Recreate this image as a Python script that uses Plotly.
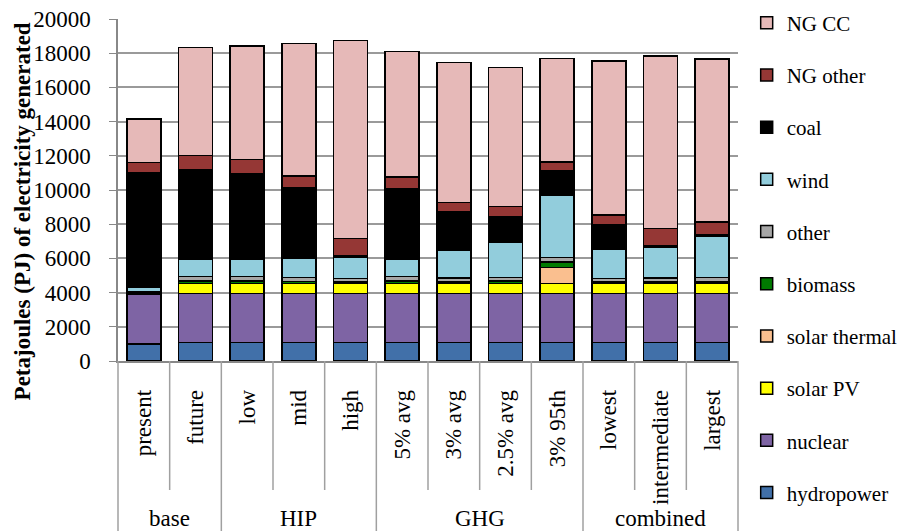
import plotly.graph_objects as go

groups = ["base", "base", "HIP", "HIP", "HIP", "GHG", "GHG", "GHG", "GHG",
          "combined", "combined", "combined"]
scenarios = ["present", "future", "low", "mid", "high", "5% avg", "3% avg",
             "2.5% avg", "3% 95th", "lowest", "intermediate", "largest"]

hydropower    = [1000, 1070, 1070, 1070, 1070, 1070, 1070, 1070, 1070, 1070, 1070, 1070]
nuclear       = [2930, 2890, 2890, 2890, 2890, 2890, 2890, 2890, 2890, 2890, 2890, 2890]
solar_pv      = [0, 560, 560, 560, 560, 560, 560, 560, 560, 560, 560, 560]
solar_thermal = [0, 0, 0, 0, 0, 0, 0, 0, 960, 0, 0, 0]
biomass       = [60, 150, 150, 130, 100, 150, 100, 150, 310, 100, 100, 100]
other         = [60, 270, 270, 230, 200, 270, 230, 210, 250, 200, 230, 250]
wind          = [270, 1015, 1015, 1150, 1230, 1015, 1620, 2090, 3670, 1740, 1820, 2440]
coal          = [6700, 5250, 5000, 4080, 80, 4120, 2250, 1460, 1390, 1390, 60, 60]
ng_other      = [580, 820, 840, 700, 1035, 700, 550, 600, 530, 590, 1020, 760]
ng_cc         = [2540, 6310, 6640, 7770, 11580, 7320, 8200, 8140, 6070, 9000, 10100, 9530]

y_ticks = [0, 2000, 4000, 6000, 8000, 10000, 12000, 14000, 16000, 18000, 20000]

series = [
    ("hydropower", hydropower, "#4170A9"),
    ("nuclear", nuclear, "#7E64A4"),
    ("solar PV", solar_pv, "#FFFF00"),
    ("solar thermal", solar_thermal, "#FABF8F"),
    ("biomass", biomass, "#007A00"),
    ("other", other, "#A6A6A6"),
    ("wind", wind, "#92CDDC"),
    ("coal", coal, "#000000"),
    ("NG other", ng_other, "#953735"),
    ("NG CC", ng_cc, "#E6B9B8"),
]

FONT = "Liberation Serif, Times New Roman, serif"
# the page body adds an 8px offset, so the figure is 8px smaller and margins shifted
W, H = 899, 523
ML, MR, MT, MB = 110, 169, 11, 170
plot_h = H - MT - MB

fig = go.Figure()
for i, (name, vals, color) in enumerate(series):
    fig.add_trace(go.Bar(
        x=scenarios, y=vals, name=name, legendgroup=name,
        legendrank=100 - i,
        marker=dict(color=color, line=dict(color="#000000", width=1.5)),
    ))

ncat = len(scenarios)
group_names = list(dict.fromkeys(groups))

# category separators below the axis (inner ticks and full-height group dividers)
inner_len = 129 / plot_h
full_len = MB / plot_h
for k in range(ncat + 1):
    is_group_edge = k == 0 or k == ncat or groups[k] != groups[k - 1]
    fig.add_shape(type="line", xref="paper", yref="paper",
                  x0=k / ncat, x1=k / ncat, y0=0,
                  y1=-(full_len if is_group_edge else inner_len),
                  line=dict(color="#A0A0A0", width=1.5))

# group labels centred under their categories
for g in group_names:
    idx = [k for k, gg in enumerate(groups) if gg == g]
    xc = (sum(idx) / len(idx) + 0.5) / ncat
    fig.add_annotation(text=g, xref="paper", yref="paper", x=xc, y=-157 / plot_h,
                       xanchor="center", yanchor="middle", showarrow=False,
                       font=dict(family=FONT, size=23, color="#000000"))

# y axis title
fig.add_annotation(text="<b>Petajoules (PJ) of electricity generated</b>",
                   xref="paper", yref="paper", x=-0.154, y=0.436,
                   xanchor="center", yanchor="middle", textangle=-90,
                   showarrow=False, font=dict(family=FONT, size=23, color="#000000"))

fig.update_layout(
    barmode="stack",
    bargap=0.34,
    width=W, height=H,
    margin=dict(l=ML, r=MR, t=MT, b=MB, autoexpand=False),
    paper_bgcolor="white", plot_bgcolor="white",
    font=dict(family=FONT, size=21, color="#000000"),
    showlegend=True,
    legend=dict(
        traceorder="grouped", tracegroupgap=21.9, maxheight=600,
        x=1.014, xanchor="left", y=1.048, yanchor="top",
        font=dict(family=FONT, size=21, color="#000000"),
        itemwidth=30, bgcolor="rgba(0,0,0,0)",
    ),
    xaxis=dict(
        type="category", range=[-0.5, ncat - 0.5], tickangle=-90, automargin=False,
        showline=True, linecolor="#888888", linewidth=1.5,
        ticks="", ticklabelstandoff=18,
        tickfont=dict(family=FONT, size=23, color="#000000"),
        showgrid=False,
    ),
    yaxis=dict(
        range=[0, 20000], tickvals=y_ticks, ticktext=[str(v) for v in y_ticks],
        automargin=False, ticklabelstandoff=14, ticklabeloverflow="allow",
        showgrid=True, gridcolor="#9A9A9A", gridwidth=1.5,
        showline=True, linecolor="#888888", linewidth=1.5,
        ticks="outside", ticklen=7, tickcolor="#888888",
        tickfont=dict(family=FONT, size=23, color="#000000"),
        zeroline=False,
    ),
)

fig.write_html("out.html")
